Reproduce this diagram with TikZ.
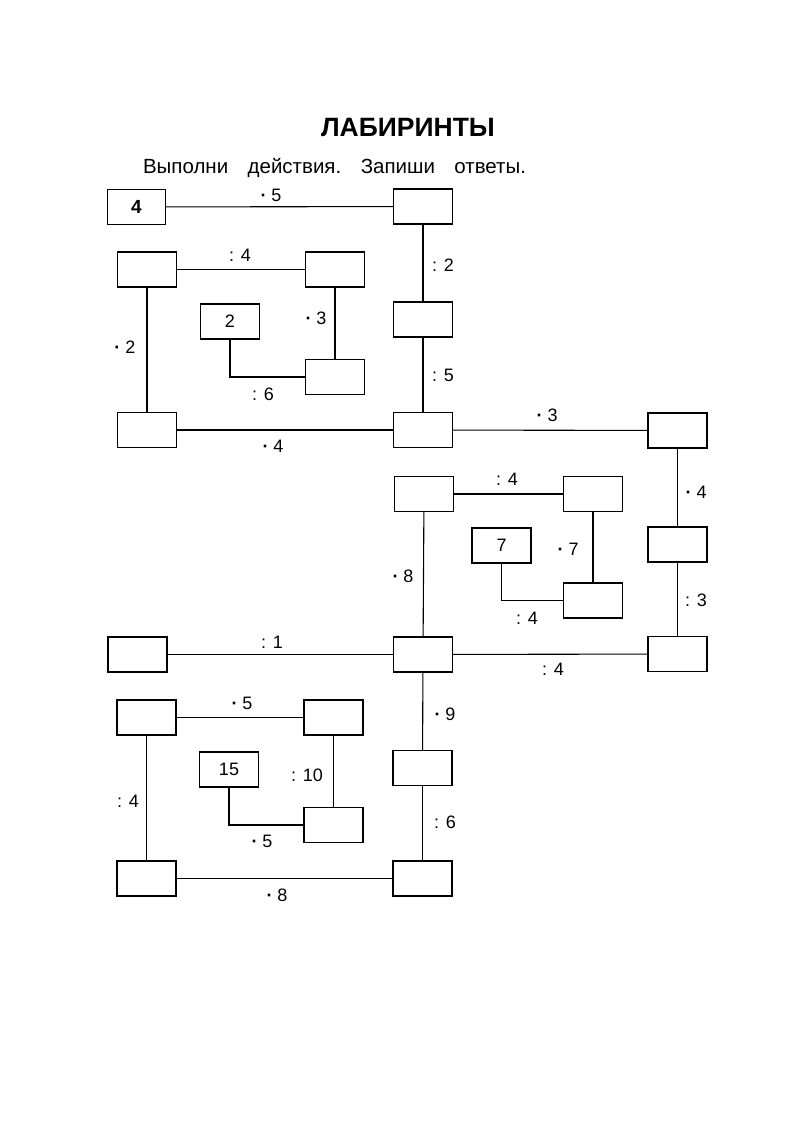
\documentclass[tikz,border=0pt]{standalone}
\usepackage{fontspec}
\setmainfont{Liberation Sans}
\begin{document}
\begin{tikzpicture}[x=1pt,y=-1pt,
  cell/.style={draw,line width=1.4pt,minimum width=59pt,minimum height=35pt,inner sep=0pt,font=\fontsize{18}{21}\selectfont},
  wire/.style={line width=1.1pt},
  lab/.style={inner sep=0pt,font=\fontsize{18}{21}\selectfont}]
\useasboundingbox (0,0) rectangle (800,1131);
\node[font=\bfseries\fontsize{26.5}{30}\selectfont] (title) at (408,127) {ЛАБИРИНТЫ};
\node[font=\fontsize{20.5}{24}\selectfont] (sub) at (334.5,168) {Выполни\hspace{0.95em}действия.\hspace{0.95em}Запиши\hspace{0.95em}ответы.};
% top maze
\node[cell,minimum width=58pt,font=\bfseries\fontsize{19}{22}\selectfont] (s) at (136.5,207) {4};
\node[cell] (A1) at (423,206.5) {};
\node[cell] (A2) at (423,319.5) {};
\node[cell] (A3) at (423,430) {};
\node[cell] (B1) at (147,269.5) {};
\node[cell] (B2) at (335,269.5) {};
\node[cell] (B3) at (335,377) {};
\node[cell] (b0) at (230,321.5) {2};
\node[cell] (B4) at (147,430) {};
% right maze
\node[cell] (C1) at (677.5,430.5) {};
\node[cell] (C2) at (677.5,544.5) {};
\node[cell] (C3) at (677.5,654) {};
\node[cell] (D1) at (424,494) {};
\node[cell] (D2) at (593,494) {};
\node[cell] (D3) at (593,600.5) {};
\node[cell] (d0) at (501.5,545.5) {7};
\node[cell] (E) at (423,654.5) {};
% bottom maze
\node[cell] (F) at (137.5,654.5) {};
\node[cell] (G1) at (146.5,717.5) {};
\node[cell] (G2) at (333.5,717.5) {};
\node[cell] (G3) at (333.5,825) {};
\node[cell] (g0) at (229,769.5) {15};
\node[cell] (H1) at (422.5,768) {};
\node[cell] (H2) at (422.5,878.5) {};
\node[cell] (G4) at (146.5,878.5) {};
% connectors
\draw[wire] (s) -- (A1);
\draw[wire] (A1) -- (A2);
\draw[wire] (A2) -- (A3);
\draw[wire] (B1) -- (B2);
\draw[wire] (B2) -- (B3);
\draw[wire] (b0) |- (B3);
\draw[wire] (B1) -- (B4);
\draw[wire] (B4) -- (A3);
\draw[wire] (A3) -- (C1);
\draw[wire] (C1) -- (C2);
\draw[wire] (C2) -- (C3);
\draw[wire] (D1) -- (D2);
\draw[wire] (D2) -- (D3);
\draw[wire] (d0) |- (D3);
\draw[wire] (D1) -- (E);
\draw[wire] (E) -- (C3);
\draw[wire] (F) -- (E);
\draw[wire] (E) -- (H1);
\draw[wire] (H1) -- (H2);
\draw[wire] (G1) -- (G2);
\draw[wire] (G2) -- (G3);
\draw[wire] (g0) |- (G3);
\draw[wire] (G1) -- (G4);
\draw[wire] (G4) -- (H2);
% labels
\node[lab] (l1) at (271,195) {\textbf{·} 5};
\node[lab] (l2) at (443,265) {: 2};
\node[lab] (l3) at (443,375) {: 5};
\node[lab] (l4) at (240,255) {: 4};
\node[lab] (l5) at (316,318) {\textbf{·} 3};
\node[lab] (l6) at (263,394) {: 6};
\node[lab] (l7) at (125,347) {\textbf{·} 2};
\node[lab] (l8) at (273,446) {\textbf{·} 4};
\node[lab] (l9) at (547,415) {\textbf{·} 3};
\node[lab] (l10) at (696,492) {\textbf{·} 4};
\node[lab] (l11) at (696,600) {: 3};
\node[lab] (l12) at (507,479) {: 4};
\node[lab] (l13) at (568,549) {\textbf{·} 7};
\node[lab] (l14) at (527,618) {: 4};
\node[lab] (l15) at (403,576) {\textbf{·} 8};
\node[lab] (l16) at (553,669) {: 4};
\node[lab] (l17) at (272,642) {: 1};
\node[lab] (l18) at (445,714) {\textbf{·} 9};
\node[lab] (l19) at (445,822) {: 6};
\node[lab] (l20) at (242,703) {\textbf{·} 5};
\node[lab] (l21) at (307,775) {: 10};
\node[lab] (l22) at (262,841) {\textbf{·} 5};
\node[lab] (l23) at (128,801) {: 4};
\node[lab] (l24) at (277,895) {\textbf{·} 8};
\end{tikzpicture}
\end{document}
